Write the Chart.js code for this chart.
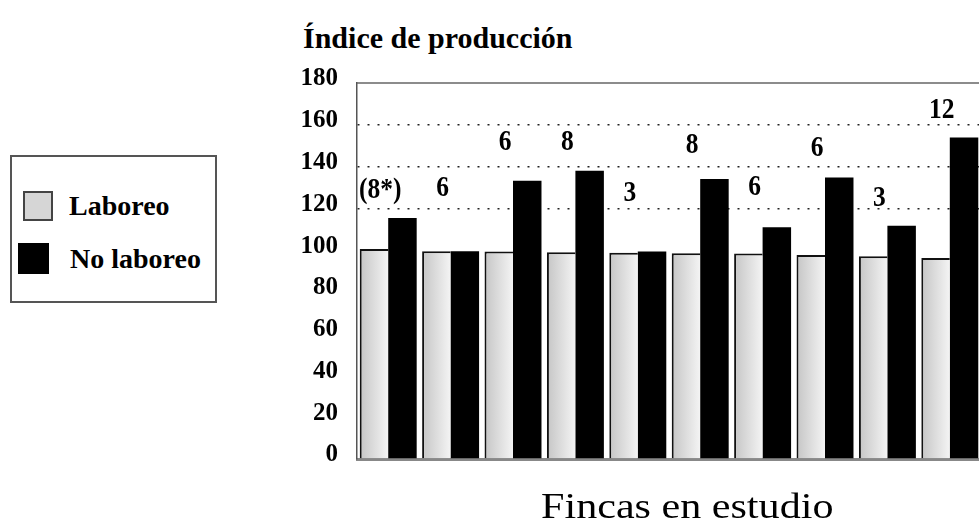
<!DOCTYPE html>
<html lang="es">
<head>
<meta charset="utf-8">
<title>Índice de producción</title>
<script src="https://cdn.jsdelivr.net/npm/chart.js@4.4.1/dist/chart.umd.min.js"></script>
<style>
  html, body { margin: 0; padding: 0; background: #fff; overflow: hidden; }
  body { width: 979px; height: 532px; position: relative; font-family: "Liberation Serif", serif; }
  #chart_wrap { position: absolute; left: 0; top: 0; width: 1000px; height: 532px; }
  .chart_title {
    position: absolute; left: 303px; top: 23px; margin: 0;
    font-size: 30px; line-height: 30px; font-weight: bold; white-space: nowrap;
  }
  .axis_title {
    position: absolute; left: 541px; top: 488px; margin: 0;
    font-size: 36px; line-height: 36px; white-space: nowrap;
    transform: scaleX(1.17); transform-origin: left center;
  }
  #legend-container {
    position: absolute; left: 10px; top: 155px; width: 207px; height: 148px;
    box-sizing: border-box; border: 2px solid #555; background: #fff;
  }
  .canvas_legend { list-style: none; margin: 0; padding: 0; }
  .canvas_legend__item { position: absolute; left: 6px; display: flex; align-items: center; }
  .canvas_legend__item:nth-child(1) { top: 34px; }
  .canvas_legend__item:nth-child(2) { top: 86px; }
  .canvas_legend__box { display: inline-block; width: 30px; height: 30px; box-sizing: border-box; margin-right: 21px; }
  .canvas_legend__item:nth-child(1) .canvas_legend__box { background: #d6d6d6; border: 2px solid #444; margin-left: 5px; margin-right: 16px; }
  .canvas_legend__item:nth-child(2) .canvas_legend__box { background: #000; width: 31px; height: 31px; }
  .canvas_legend__label { margin: 0; font-size: 28px; font-weight: bold; line-height: 30px; white-space: nowrap; }
</style>
</head>
<body>
<p class="chart_title">Índice de producción</p>
<div id="legend-container"></div>
<div id="chart_wrap"><canvas id="barChart"></canvas></div>
<p class="axis_title">Fincas en estudio</p>
<script>
"use strict";

// datos
const fincas = ["1", "2", "3", "4", "5", "6", "7", "8", "9", "10"];
const seriesNames = ["Laboreo", "No laboreo"];
const laboreo = [100.5, 99.5, 99.3, 99, 98.7, 98.5, 98.4, 97.7, 97.1, 96.2];
const noLaboreo = [115.4, 99.5, 133.2, 138, 99.3, 134, 110.9, 134.8, 111.7, 153.9];
const notas = ["(8*)", "6", "6", "8", "3", "8", "6", "6", "3", "12"];
const notaNivel = [128.5, 129.5, 151.5, 151.5, 127, 150, 130, 149, 125, 167];
const yMin = 0;
const yMax = 180;
const yStep = 20;
const lineasPunteadas = [120, 140, 160];

const SERIF = "'Liberation Serif', 'Times New Roman', serif";

const getOrCreateLegendList = (chart, id) => {
  const legendContainer = document.getElementById(id);
  let listContainer = legendContainer.querySelector("ul");
  if (!listContainer) {
    listContainer = document.createElement("ul");
    listContainer.classList.add("canvas_legend");
    legendContainer.appendChild(listContainer);
  }
  return listContainer;
};

const htmlLegendPlugin = {
  id: "htmlLegend",
  afterUpdate(chart, args, options) {
    const ul = getOrCreateLegendList(chart, options.containerID);
    while (ul.firstChild) {
      ul.firstChild.remove();
    }
    chart.data.datasets.forEach((ds) => {
      const li = document.createElement("li");
      li.classList.add("canvas_legend__item");
      const boxSpan = document.createElement("span");
      boxSpan.classList.add("canvas_legend__box");
      const textContainer = document.createElement("p");
      textContainer.classList.add("canvas_legend__label");
      textContainer.appendChild(document.createTextNode(ds.label));
      li.appendChild(boxSpan);
      li.appendChild(textContainer);
      ul.appendChild(li);
    });
  },
};

// numeros sobre cada finca
const notasPlugin = {
  id: "notas",
  afterDatasetsDraw(chart) {
    const ctx = chart.ctx;
    const x = chart.scales.x;
    const y = chart.scales.y;
    ctx.font = "bold 30px " + SERIF;
    ctx.fillStyle = "#000";
    ctx.textAlign = "center";
    ctx.textBaseline = "middle";
    notas.forEach((t, i) => {
      ctx.save();
      ctx.translate(x.getPixelForValue(i) - 8, y.getPixelForValue(notaNivel[i]));
      ctx.scale(0.85, 1);
      ctx.fillText(t, 0, 0);
      ctx.restore();
    });
  },
};

// linea superior del marco
const marcoPlugin = {
  id: "marco",
  afterDatasetsDraw(chart) {
    const a = chart.chartArea;
    const ctx = chart.ctx;
    ctx.save();
    ctx.strokeStyle = "#666";
    ctx.lineWidth = 1.5;
    ctx.beginPath();
    ctx.moveTo(a.left, a.top);
    ctx.lineTo(a.right, a.top);
    ctx.stroke();
    ctx.restore();
  },
};

function laboreoFill(c) {
  const xs = c.chart.scales.x;
  if (!xs || c.type !== "data" || !xs.width) return "#d6d6d6";
  const mid = xs.getPixelForValue(c.dataIndex);
  const w = (xs.width / fincas.length) * 0.45;
  const g = c.chart.ctx.createLinearGradient(mid - w, 0, mid, 0);
  g.addColorStop(0, "#c6c6c6");
  g.addColorStop(1, "#f4f4f4");
  return g;
}

new Chart(document.querySelector("#barChart").getContext("2d"), {
  type: "bar",
  data: {
    labels: fincas,
    datasets: [
      {
        label: seriesNames[0],
        data: laboreo,
        backgroundColor: laboreoFill,
        borderColor: "#111",
        borderWidth: { top: 2, left: 2, right: 0, bottom: 0 },
        borderSkipped: false,
      },
      {
        label: seriesNames[1],
        data: noLaboreo,
        backgroundColor: "#000",
        borderWidth: 0,
      },
    ],
  },
  options: {
    responsive: true,
    maintainAspectRatio: false,
    animation: false,
    categoryPercentage: 0.913,
    barPercentage: 1.0,
    layout: { padding: { top: 83, right: 19, left: 0, bottom: 0 } },
    plugins: {
      legend: { display: false },
      tooltip: { enabled: false },
      htmlLegend: { containerID: "legend-container" },
    },
    scales: {
      x: {
        grid: { display: false },
        ticks: { display: false },
        border: { display: true, color: "#888", width: 3 },
        afterFit: function (scale) {
          scale.height = 73;
        },
      },
      y: {
        min: yMin,
        max: yMax,
        grid: {
          drawTicks: false,
          lineWidth: 1.5,
          color: function (c) {
            return c.tick && lineasPunteadas.includes(c.tick.value) ? "#222" : "rgba(0,0,0,0)";
          },
        },
        border: { display: true, color: "#555", width: 1.5, dash: [2, 8] },
        ticks: {
          stepSize: yStep,
          padding: 19,
          labelOffset: -4,
          color: "#000",
          font: { family: SERIF, size: 25, weight: "bold" },
        },
        afterFit: function (scale) {
          scale.width = 357;
        },
      },
    },
  },
  plugins: [htmlLegendPlugin, notasPlugin, marcoPlugin],
});
</script>
</body>
</html>
